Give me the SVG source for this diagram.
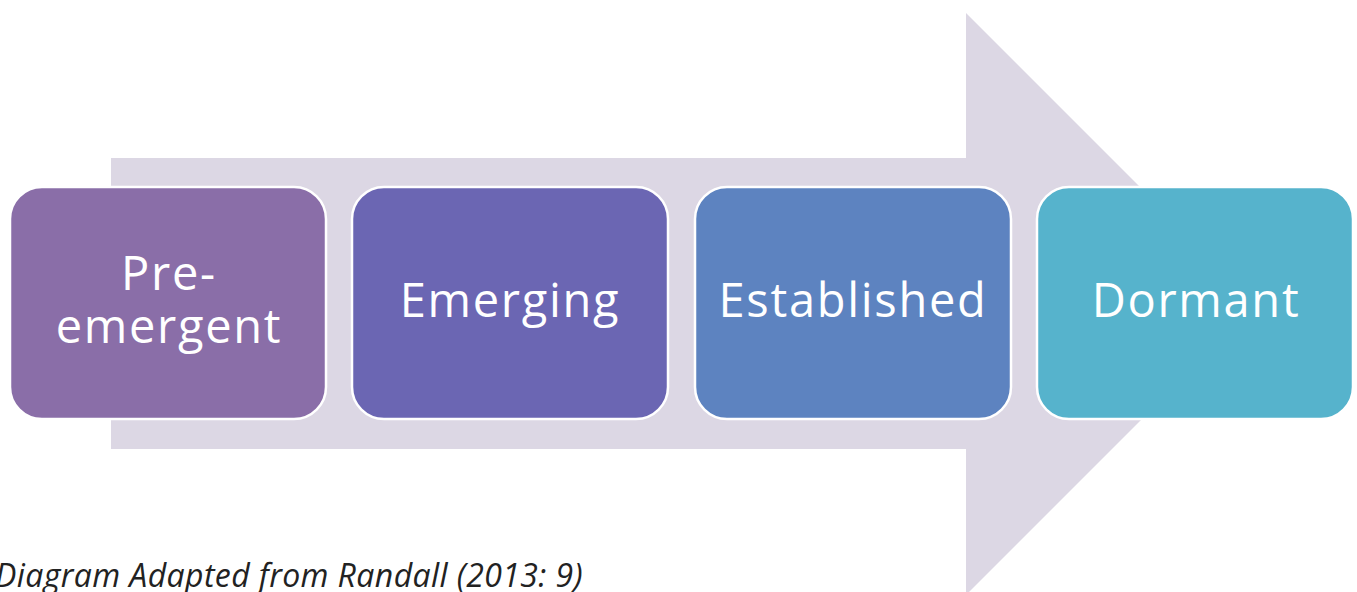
<svg xmlns="http://www.w3.org/2000/svg" width="1357" height="592" viewBox="0 0 1357 592">
<style>
.box{stroke:#ffffff;stroke-width:2.5}
.lbl{font-family:"Open Sans","Noto Sans",sans-serif;font-size:47px;letter-spacing:1.7px;fill:#ffffff;text-anchor:middle}
.cap{font-family:"Open Sans","Noto Sans",sans-serif;font-size:32px;letter-spacing:0.4px;font-style:italic;fill:#222222}
</style>
<rect width="1357" height="592" fill="#ffffff"/>
<g id="connectors">
<path d="M111,158 L966,158 L966,13 L1257,304 L966,595 L966,449 L111,449 Z" fill="#dcd7e4"/>
</g>
<g id="node-preemergent">
<rect class="box" x="10" y="187" width="316" height="232" rx="32" fill="#8a6ea8"/>
<text class="lbl" x="169" y="290">Pre-</text>
<text class="lbl" x="169" y="343">emergent</text>
</g>
<g id="node-emerging">
<rect class="box" x="352" y="187" width="316" height="232" rx="32" fill="#6b66b3"/>
<text class="lbl" x="510" y="317">Emerging</text>
</g>
<g id="node-established">
<rect class="box" x="695" y="187" width="316" height="232" rx="32" fill="#5d83c0"/>
<text class="lbl" x="853" y="317">Established</text>
</g>
<g id="node-dormant">
<rect class="box" x="1037" y="187" width="316" height="232" rx="32" fill="#56b3cc"/>
<text class="lbl" x="1196" y="317">Dormant</text>
</g>
<text class="cap" x="-5" y="587">Diagram Adapted from Randall (2013: 9)</text>
</svg>
